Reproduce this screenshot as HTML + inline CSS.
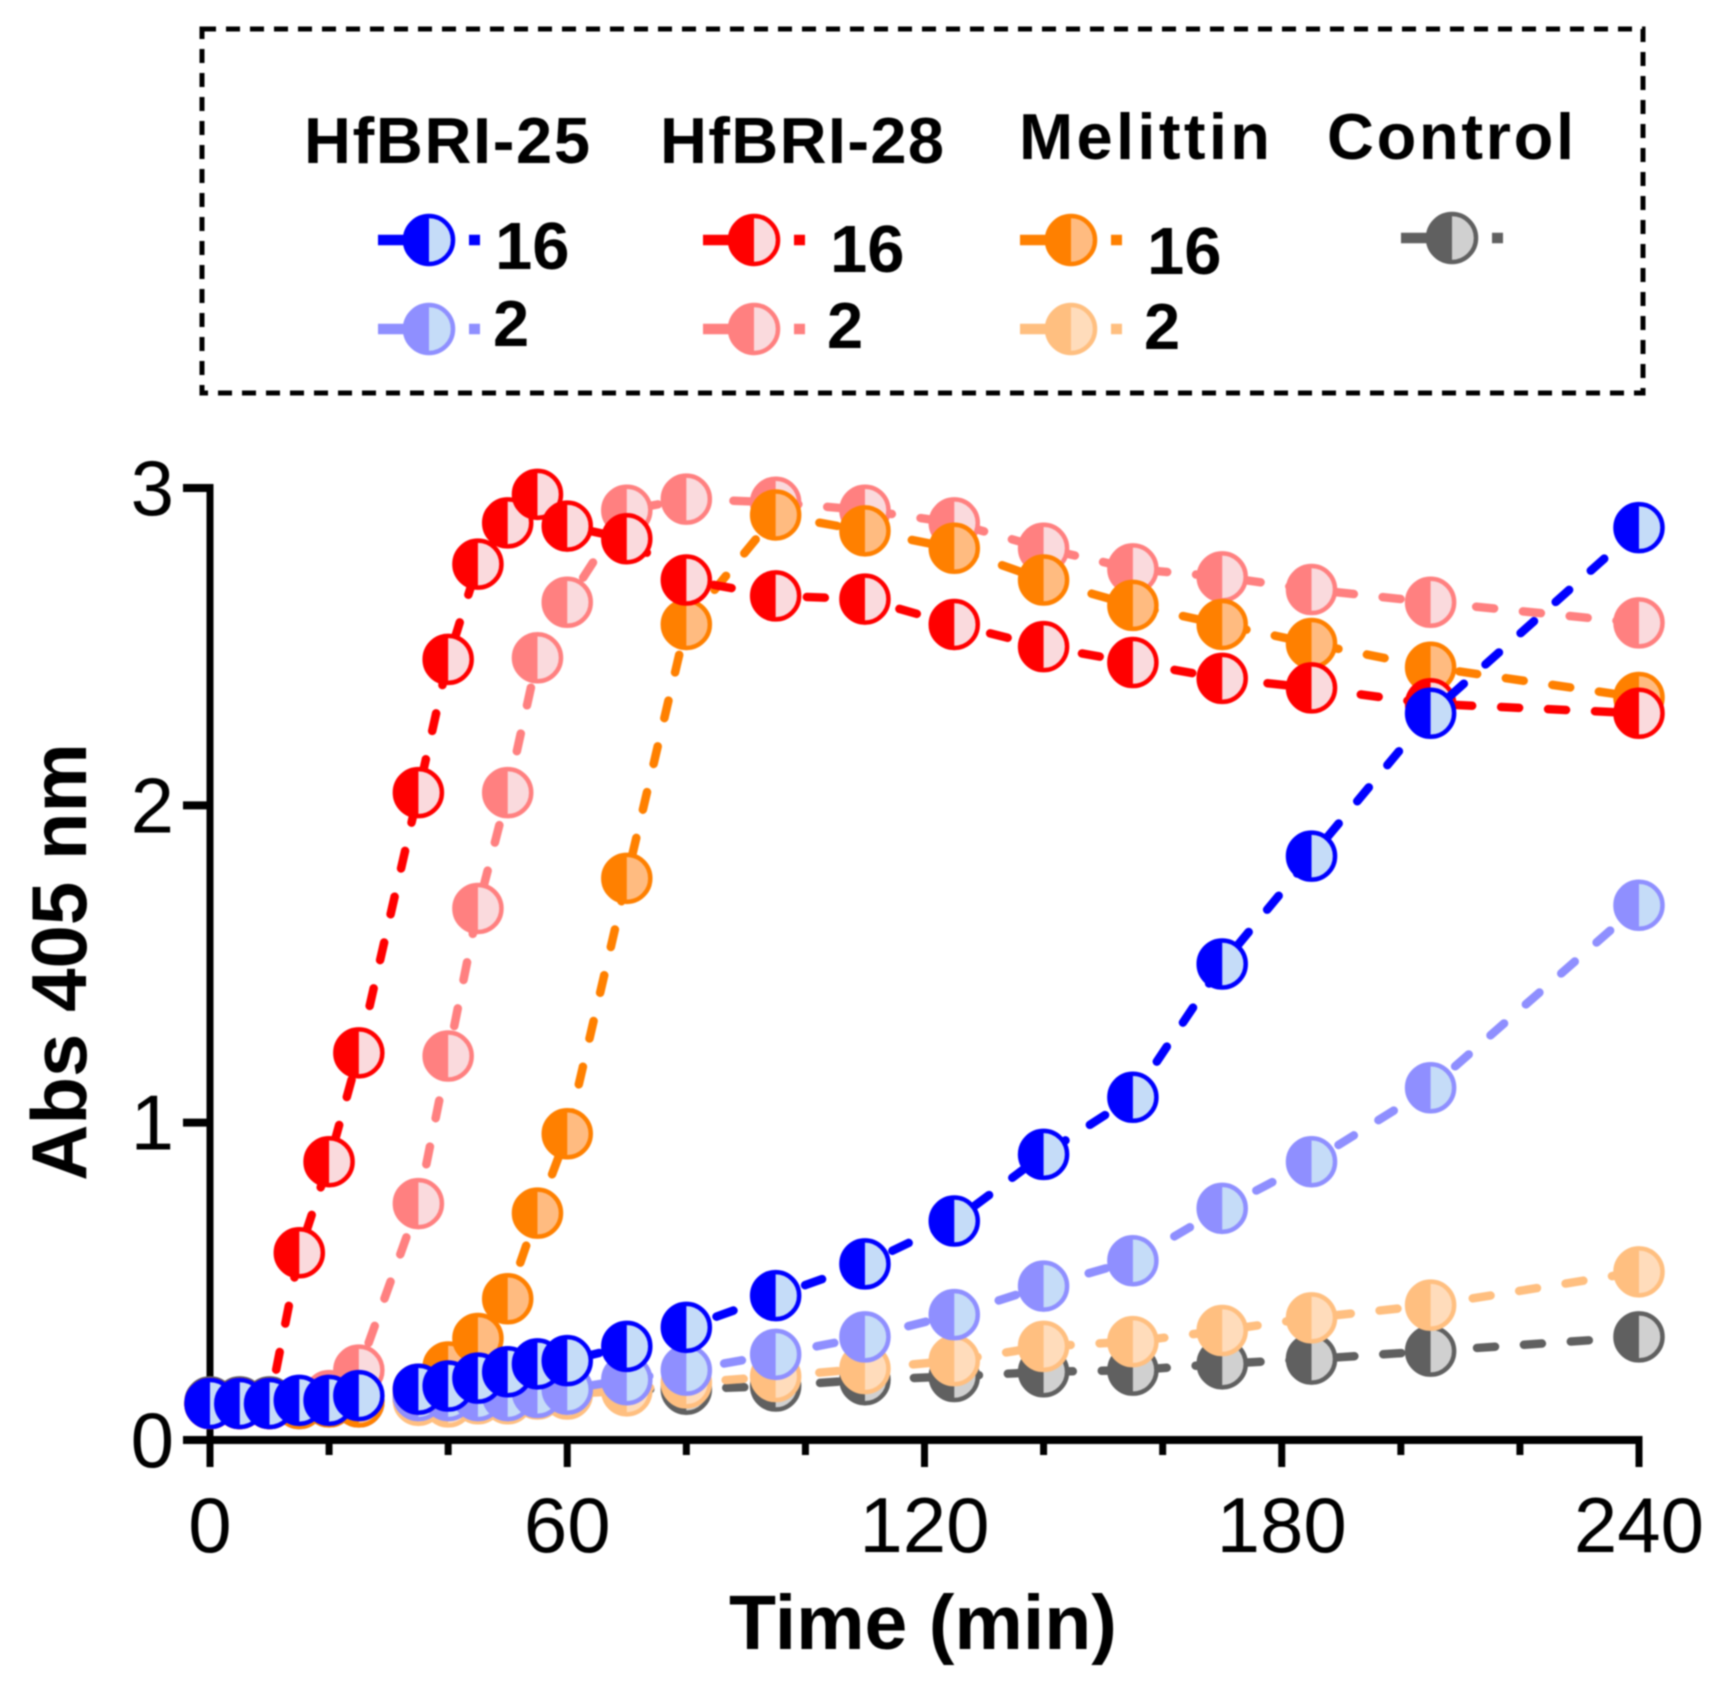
<!DOCTYPE html>
<html lang="en">
<head>
<meta charset="utf-8">
<title>Abs 405 nm over time</title>
<style>
html,body{margin:0;padding:0;background:#fff;}
body{width:1719px;height:1692px;overflow:hidden;}
svg{display:block;filter:blur(0.7px);}
text{font-family:"Liberation Sans",Arial,sans-serif;fill:#000;}
.b{font-weight:700;}
</style>
</head>
<body>
<svg id="chart" xmlns="http://www.w3.org/2000/svg" width="1719" height="1692" viewBox="0 0 1719 1692">
  <rect width="1719" height="1692" fill="#fff"/>
  <rect x="202" y="29" width="1441" height="364" fill="none" stroke="#000" stroke-width="5" stroke-dasharray="14 10"/>
  <text class="b" x="304" y="163" font-size="65" textLength="286" lengthAdjust="spacing">HfBRI-25</text>
  <text class="b" x="660" y="163" font-size="65" textLength="284" lengthAdjust="spacing">HfBRI-28</text>
  <text class="b" x="1019" y="159" font-size="65" textLength="251" lengthAdjust="spacing">Melittin</text>
  <text class="b" x="1327" y="159" font-size="65" textLength="247" lengthAdjust="spacing">Control</text>
  <text class="b" x="495" y="269" font-size="67">16</text>
  <text class="b" x="493" y="346" font-size="65">2</text>
  <text class="b" x="830" y="272" font-size="67">16</text>
  <text class="b" x="827" y="348" font-size="65">2</text>
  <text class="b" x="1147" y="274" font-size="67">16</text>
  <text class="b" x="1144" y="349" font-size="65">2</text>
  <text class="b" x="923" y="1649" font-size="77" text-anchor="middle">Time (min)</text>
  <text class="b" x="86" y="962" font-size="78" text-anchor="middle" transform="rotate(-90 86 962)">Abs 405 nm</text>
  <g id="axes"></g>
  <g id="series"></g>
  <g id="legend-keys"></g>
</svg>
<script>
const times = [0,5,10,15,20,25,35,40,45,50,55,60,70,80,95,110,125,140,155,170,185,205,240];
const control = [0.12,0.12,0.12,0.12,0.125,0.125,0.13,0.125,0.135,0.135,0.15,0.15,0.16,0.16,0.17,0.19,0.2,0.215,0.22,0.24,0.255,0.28,0.325];
const melittin2 = [0.115,0.115,0.115,0.115,0.12,0.12,0.125,0.12,0.13,0.13,0.145,0.145,0.155,0.18,0.2,0.225,0.25,0.295,0.31,0.345,0.385,0.425,0.53];
const hfbri25Low = [0.115,0.115,0.115,0.115,0.12,0.12,0.14,0.14,0.14,0.14,0.15,0.16,0.19,0.22,0.27,0.325,0.395,0.485,0.565,0.73,0.877,1.11,1.685];
const hfbri28Low = [0.115,0.115,0.115,0.12,0.14,0.22,0.745,1.21,1.675,2.04,2.465,2.64,2.93,2.965,2.955,2.93,2.89,2.81,2.745,2.72,2.68,2.64,2.575];
const melittin16 = [0.115,0.115,0.115,0.115,0.12,0.12,0.16,0.23,0.32,0.445,0.715,0.965,1.77,2.57,2.915,2.865,2.81,2.71,2.63,2.57,2.51,2.435,2.34];
const hfbri28High = [0.115,0.115,0.115,0.59,0.877,1.22,2.04,2.46,2.76,2.89,2.98,2.88,2.84,2.71,2.66,2.65,2.57,2.50,2.45,2.40,2.37,2.32,2.29];
const hfbri25High = [0.115,0.115,0.115,0.125,0.125,0.14,0.16,0.17,0.195,0.215,0.24,0.25,0.295,0.355,0.455,0.555,0.69,0.90,1.08,1.50,1.84,2.29,2.875];
const xMajorTicks = [0,60,120,180,240];
const xMinorTicks = [20,40,80,100,140,160,200,220];
const yTicks = [0,1,2,3];

const SVGNS = 'http://www.w3.org/2000/svg';
const xScale = t => 210 + t * (1639 - 210) / 240;
const yScale = v => 1440 - v * (1440 - 488) / 3;
const R = 23.5;

function make(tag, attrs, parent) {
  const el = document.createElementNS(SVGNS, tag);
  for (const k in attrs) el.setAttribute(k, attrs[k]);
  parent.appendChild(el);
  return el;
}

function drawMarker(parent, cx, cy, r, sw, c, light, name) {
  const g = make('g', {}, parent);
  
  
  make('circle', {cx: cx, cy: cy, r: r, fill: light}, g);
  make('path', {d: `M${cx} ${cy - r}A${r} ${r} 0 0 0 ${cx} ${cy + r}Z`, fill: c}, g);
  make('circle', {cx: cx, cy: cy, r: r, fill: 'none', stroke: c, 'stroke-width': sw}, g);
}

const axes = document.getElementById('axes');
const axisY = make('line', {x1: xScale(0), x2: xScale(0), y1: yScale(3) - 4, y2: yScale(0) + 27, stroke: '#000', 'stroke-width': 7}, axes);


const axisX = make('line', {x1: 183, x2: xScale(240) + 3.5, y1: yScale(0), y2: yScale(0), stroke: '#000', 'stroke-width': 8}, axes);



xMajorTicks.forEach(t => {
  const tick = make('line', {x1: xScale(t), x2: xScale(t), y1: yScale(0), y2: 1467, stroke: '#000', 'stroke-width': 7}, axes);
  
  
  const label = make('text', {x: xScale(t), y: 1552, 'font-size': 78, 'text-anchor': 'middle'}, axes);
  label.textContent = String(t);
  
  
});
xMinorTicks.forEach(t => {
  const tick = make('line', {x1: xScale(t), x2: xScale(t), y1: yScale(0), y2: 1455, stroke: '#000', 'stroke-width': 7}, axes);
  
  
});
yTicks.forEach(v => {
  const tick = make('line', {x1: 183, x2: xScale(0), y1: yScale(v), y2: yScale(v), stroke: '#000', 'stroke-width': 8}, axes);
  
  
  const label = make('text', {x: 174, y: yScale(v) + 27, 'font-size': 78, 'text-anchor': 'end'}, axes);
  label.textContent = String(v);
  
  
});

const seriesList = [
  {key: 'control', values: control, color: '#606060', light: '#d0d0d0'},
  {key: 'melittin-2', values: melittin2, color: '#ffbf80', light: '#ffdcbb'},
  {key: 'hfbri-25-2', values: hfbri25Low, color: '#8f8fff', light: '#c5dcf8'},
  {key: 'hfbri-28-2', values: hfbri28Low, color: '#ff8080', light: '#fadadd'},
  {key: 'melittin-16', values: melittin16, color: '#ff8000', light: '#ffbb80'},
  {key: 'hfbri-28-16', values: hfbri28High, color: '#ff0000', light: '#fadadd'},
  {key: 'hfbri-25-16', values: hfbri25High, color: '#0000ff', light: '#c5dcf8'}
];

const seriesRoot = document.getElementById('series');
seriesList.forEach(s => {
  const group = make('g', {}, seriesRoot);
  
  
  const d = s.values.map((v, i) => (i ? 'L' : 'M') + xScale(times[i]).toFixed(1) + ' ' + yScale(v).toFixed(1)).join('');
  const line = make('path', {d: d, fill: 'none', stroke: s.color, 'stroke-width': 8.5, 'stroke-linecap': 'round', 'stroke-dasharray': '18 29'}, group);
  
  
  s.values.forEach((v, i) => {
    drawMarker(group, xScale(times[i]), yScale(v), R, 4.5, s.color, s.light, 'point-' + s.key);
  });
});

const legendKeys = [
  {key: 'hfbri-25-16', x: 429, y: 240, color: '#0000ff', light: '#c5dcf8'},
  {key: 'hfbri-25-2', x: 429, y: 329, color: '#8f8fff', light: '#c5dcf8'},
  {key: 'hfbri-28-16', x: 754, y: 240, color: '#ff0000', light: '#fadadd'},
  {key: 'hfbri-28-2', x: 754, y: 329, color: '#ff8080', light: '#fadadd'},
  {key: 'melittin-16', x: 1071, y: 240, color: '#ff8000', light: '#ffbb80'},
  {key: 'melittin-2', x: 1071, y: 329, color: '#ffbf80', light: '#ffdcbb'},
  {key: 'control', x: 1452, y: 238, color: '#606060', light: '#d0d0d0'}
];
const legendRoot = document.getElementById('legend-keys');
legendKeys.forEach(k => {
  const entry = make('g', {}, legendRoot);
  
  
  make('line', {x1: k.x - 51, x2: k.x - 20, y1: k.y, y2: k.y, stroke: k.color, 'stroke-width': 10.5}, entry);
  make('line', {x1: k.x + 40, x2: k.x + 51, y1: k.y, y2: k.y, stroke: k.color, 'stroke-width': 10.5, 'stroke-linecap': 'butt'}, entry);
  drawMarker(entry, k.x, k.y, 24, 4.5, k.color, k.light, 'legend-marker-' + k.key);
});
</script>
</body>
</html>
